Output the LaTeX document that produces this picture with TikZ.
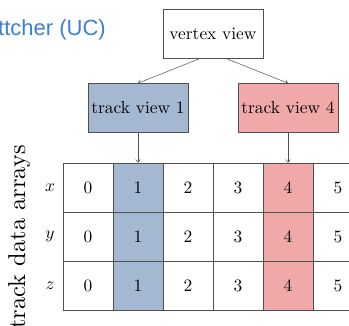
\documentclass[tikz,border=0pt]{standalone}
\usepackage{graphicx}
\usepackage{fontspec}
\newfontfamily\slidefont{Liberation Sans}
\usetikzlibrary{arrows.meta}
\definecolor{cblue}{HTML}{A5B8D2}
\definecolor{cred}{HTML}{F0A8A9}
\definecolor{lgray}{HTML}{505050}
\definecolor{tblue}{HTML}{3C80D6}
\newcommand\mytxt[1]{\scalebox{1.74}{#1}}
\begin{document}
\begin{tikzpicture}[x=1pt,y=-1pt,
  box/.style={draw=lgray, line width=0.6pt, minimum width=100pt, minimum height=49pt, inner sep=0pt},
  cell/.style={draw=lgray, line width=0.6pt, minimum width=50pt, minimum height=49pt, inner sep=0pt},
  rowlab/.style={inner sep=0pt},
  conn/.style={draw=lgray, line width=0.5pt, -{To[length=3.5pt,width=5pt]}}]
\useasboundingbox (0,0) rectangle (349,326);
\clip (0,0) rectangle (349,326);
\fill[white] (0,0) rectangle (349,326);
% title fragment
\node[anchor=base west, inner sep=0pt, text=tblue, font=\slidefont\fontsize{22}{26}\selectfont] (ttl) at (-2,36) {ttcher (UC)};
% boxes
\node[box] (vv) at (213,33.5) {\mytxt{vertex view}};
\node[box, fill=cblue] (tv1) at (138,108) {\mytxt{track view 1}};
\node[box, fill=cred] (tv4) at (288,108) {\mytxt{track view 4}};
% grid
\foreach \c/\fc in {0/white,1/cblue,2/white,3/white,4/cred,5/white}{
  \foreach \r in {1,2,3}{
    \node[cell, fill=\fc] (c\c r\r) at (88+50*\c, 138.5+49*\r) {\mytxt{\c}};
  }
}
\node[rowlab] (lx) at (50,187.5) {\mytxt{$x$}};
\node[rowlab] (ly) at (50,236.5) {\mytxt{$y$}};
\node[rowlab] (lz) at (50,285.5) {\mytxt{$z$}};
\node[rotate=90, anchor=base east, inner sep=0pt] (lbl) at (25,145) {\scalebox{2.44}{track data arrays}};
% connectors
\draw[conn] ([xshift=-12.5pt]vv.south) -- (tv1.north);
\draw[conn] ([xshift=12.5pt]vv.south) -- (tv4.north);
\draw[conn] (tv1.south) -- (c1r1.north);
\draw[conn] (tv4.south) -- (c4r1.north);
\end{tikzpicture}
\end{document}
